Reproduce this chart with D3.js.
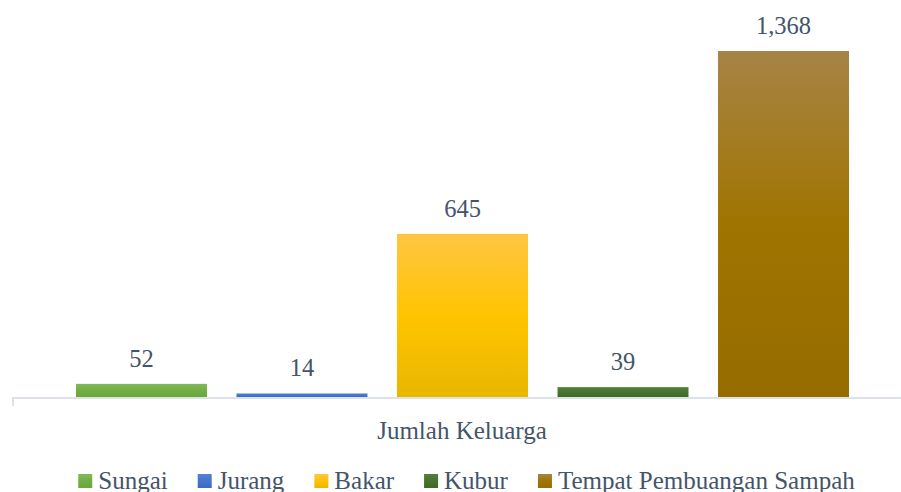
<!DOCTYPE html>
<html><head><meta charset="utf-8">
<script src="https://cdn.jsdelivr.net/npm/d3@7"></script>
<style>body{margin:0;background:#fff}svg{display:block}text{font-family:"Liberation Serif",serif;fill:#44546a}</style>
</head><body><svg id="c" width="901" height="492"></svg>
<script>
const categories = ["Sungai","Jurang","Bakar","Kubur","Tempat Pembuangan Sampah"];
const values = [52,14,645,39,1368];
const axisLabel = "Jumlah Keluarga";
const colors = [
  ["#83b95b","#72ae44","#68a838"],
  ["#5582d6","#4774cc","#3d68c2"],
  ["#ffc543","#ffc400","#e9b700"],
  ["#557f3c","#47742e","#3e6a27"],
  ["#a68446","#a07400","#966c00"]
];
const svg = d3.select("#c");
const x = d3.scaleBand().domain(categories).range([76,849]).paddingInner(0.184).paddingOuter(0);
const y = d3.scaleLinear().domain([0,1368]).range([397,51]);
const defs = svg.append("defs");
categories.forEach((c,i)=>{
  const g = defs.append("linearGradient").attr("id","g"+i).attr("x1",0).attr("y1",0).attr("x2",0).attr("y2",1);
  g.append("stop").attr("offset","0%").attr("stop-color",colors[i][0]);
  g.append("stop").attr("offset","50%").attr("stop-color",colors[i][1]);
  g.append("stop").attr("offset","100%").attr("stop-color",colors[i][2]);
});
svg.selectAll("rect.bar").data(values).join("rect").attr("class","bar")
  .attr("x",(d,i)=>x(categories[i])).attr("width",x.bandwidth())
  .attr("y",d=>y(d)).attr("height",d=>y(0)-y(d))
  .attr("fill",(d,i)=>`url(#g${i})`);
// axis
svg.append("path").attr("d",`M13,406V${y(0)+1}H901`).attr("fill","none").attr("stroke","#dde2e8").attr("stroke-width",2);
svg.selectAll("text.val").data(values).join("text").attr("class","val")
  .attr("x",(d,i)=>x(categories[i])+x.bandwidth()/2).attr("y",d=>y(d)-17)
  .attr("text-anchor","middle").attr("font-size",24.5).text(d=>d3.format(",")(d));
svg.append("text").attr("x",462).attr("y",439).attr("text-anchor","middle").attr("font-size",25).text(axisLabel);
// legend
const lg = svg.append("g");
let cx = 0;
categories.forEach((c,i)=>{
  const it = lg.append("g").attr("transform",`translate(${cx},0)`);
  it.append("rect").attr("x",0).attr("y",474).attr("width",14).attr("height",14).attr("fill",`url(#g${i})`);
  const t = it.append("text").attr("x",20).attr("y",489).attr("font-size",25).text(c);
  cx += 20 + t.node().getComputedTextLength() + 30;
});
const total = cx - 30;
lg.attr("transform",`translate(${466.5 - total/2},0)`);
</script></body></html>
